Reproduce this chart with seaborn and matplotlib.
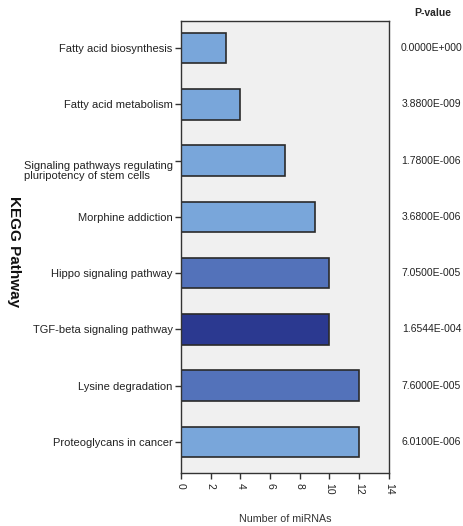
import matplotlib
matplotlib.use("Agg")
import matplotlib.pyplot as plt
import seaborn as sns
import pandas as pd

pathways = [
    "Fatty acid biosynthesis",
    "Fatty acid metabolism",
    "Signaling pathways regulating\npluripotency of stem cells",
    "Morphine addiction",
    "Hippo signaling pathway",
    "TGF-beta signaling pathway",
    "Lysine degradation",
    "Proteoglycans in cancer",
]
mirna_counts = [3, 4, 7, 9, 10, 10, 12, 12]
p_values = ["0.0000E+000", "3.8800E-009", "1.7800E-006", "3.6800E-006",
            "7.0500E-005", "1.6544E-004", "7.6000E-005", "6.0100E-006"]
bar_colors = ["#79A6DA", "#79A6DA", "#79A6DA", "#79A6DA",
              "#5372BA", "#2B3990", "#5372BA", "#79A6DA"]
x_ticks = [0, 2, 4, 6, 8, 10, 12, 14]

df = pd.DataFrame({"pathway": pathways, "count": mirna_counts})

sns.set_style("white")
plt.rcParams["font.family"] = ["Liberation Sans", "DejaVu Sans"]

fig = plt.figure(figsize=(4.64, 5.26), dpi=100)
ax = fig.add_axes([0.390, 0.101, 0.448, 0.859])
ax.set_facecolor("#F0F0F0")

sns.barplot(data=df, x="count", y="pathway", hue="pathway",
            palette=dict(zip(pathways, bar_colors)), legend=False,
            width=0.54, edgecolor="#2a2a2a", linewidth=1.2, saturation=1, ax=ax)

ax.set_xlim(0, 14)
ax.set_ylim(len(pathways) - 0.45, -0.48)
ax.set_xticks(x_ticks)
ax.set_xticklabels([str(t) for t in x_ticks], rotation=-90, fontsize=7.5, color="#222222")
ax.tick_params(axis="x", length=4, width=1, color="#333333", pad=3, bottom=True)
ax.tick_params(axis="y", length=4, width=1, color="#333333", pad=2, left=True, labelsize=8)
for lbl in ax.get_yticklabels():
    lbl.set_multialignment("left")
    lbl.set_color("#222222")
    if "\n" in lbl.get_text():
        lbl.set_linespacing(1.1)
        lbl.set_verticalalignment("top")

for sp in ax.spines.values():
    sp.set_color("#333333")
    sp.set_linewidth(1.0)
    sp.set_visible(True)

ax.set_xlabel("Number of miRNAs", fontsize=7.7, color="#333333", labelpad=14)
ax.set_ylabel("")
fig.text(0.030, 0.521, "KEGG Pathway", rotation=-90, fontsize=11, fontweight="bold",
         ha="center", va="center", color="#111111")

fig.text(0.932, 0.975, "P-value", fontsize=7.5, fontweight="bold", ha="center", va="center")
for i, pv in enumerate(p_values):
    ax.text(1.205, i, pv, transform=ax.get_yaxis_transform(), fontsize=7.5,
            ha="center", va="center", color="#222222")

fig.savefig("out.png", dpi=100, facecolor="white")
